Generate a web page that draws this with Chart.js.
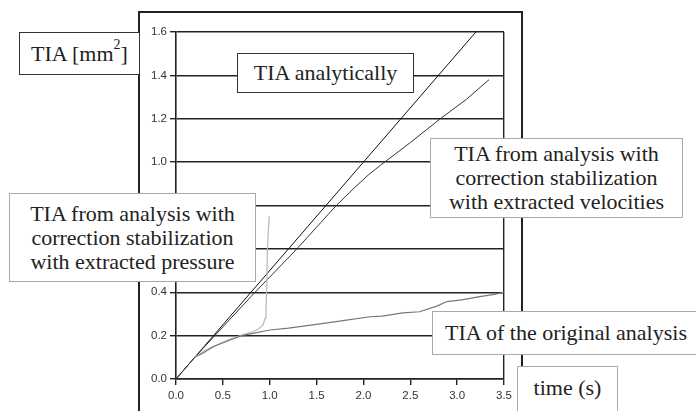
<!DOCTYPE html>
<html>
<head>
<meta charset="utf-8">
<script src="https://cdn.jsdelivr.net/npm/chart.js@4/dist/chart.umd.min.js"></script>
<style>
  html, body { margin: 0; padding: 0; background: #fff; }
  #wrap { position: relative; width: 696px; height: 411px; overflow: hidden; }
  #frame { position: absolute; left: 138px; top: 11px; width: 385px; height: 420px;
           border: 2px solid #222; box-sizing: border-box; z-index: 0; }
  canvas { position: absolute; left: 0; top: 0; z-index: 1; }
  .box { position: absolute; box-sizing: border-box; background: #fff; z-index: 2;
         font-family: "Liberation Serif", "Times New Roman", serif; font-size: 22px; line-height: 24px;
         color: #222; text-align: center; display: flex; align-items: center; justify-content: center; }
  .dark { border: 1.5px solid #333; }
  .light { border: 1.5px solid #aaa; }
  sup { font-size: 14px; line-height: 0; position: relative; top: -9px; vertical-align: baseline; }
</style>
</head>
<body>
<div id="wrap">
  <div id="frame"></div>
  <canvas id="c" width="696" height="411"></canvas>
  <div class="box dark"  style="left:19px;top:32px;width:121px;height:43px;">TIA [mm<sup>2</sup>]</div>
  <div class="box dark"  style="left:237px;top:53px;width:177px;height:40px;">TIA analytically</div>
  <div class="box light" style="left:430px;top:138px;width:253px;height:80px;">TIA from analysis with<br>correction stabilization<br>with extracted velocities</div>
  <div class="box light" style="left:9px;top:193px;width:247px;height:89px;">TIA from analysis with<br>correction stabilization<br>with extracted pressure</div>
  <div class="box light" style="left:432px;top:311px;width:268px;height:44px;">TIA of the original analysis</div>
  <div class="box light" style="left:517px;top:366px;width:101px;height:60px;align-items:flex-start;padding-top:9px;">time (s)</div>
</div>
<script>
// time axis (s) and TIA values (mm^2)
const X_TICKS = [0, 0.5, 1.0, 1.5, 2.0, 2.5, 3.0, 3.5];
const Y_TICKS = [0, 0.2, 0.4, 0.6, 0.8, 1.0, 1.2, 1.4, 1.6];

const analyticT = [0, 3.2];
const analyticV = [0, 1.6];

const velT = [0, 0.2, 0.5, 0.8, 1.0, 1.29, 1.5, 1.71, 1.9, 2.05, 2.18, 2.5, 2.82, 3.1, 3.34];
const velV = [0, 0.1, 0.24, 0.38, 0.47, 0.6, 0.7, 0.8, 0.88, 0.94, 0.985, 1.09, 1.2, 1.29, 1.38];

const origT = [0.2, 0.29, 0.4, 0.58, 0.7, 0.82, 1.0, 1.2, 1.54, 1.8, 2.07, 2.2, 2.42, 2.6, 2.79, 2.89, 3.05, 3.24, 3.4, 3.5];
const origV = [0.1, 0.12, 0.15, 0.18, 0.2, 0.21, 0.226, 0.235, 0.254, 0.27, 0.287, 0.29, 0.305, 0.31, 0.337, 0.357, 0.365, 0.38, 0.39, 0.40];

const presT = [0.2, 0.3, 0.4, 0.55, 0.65, 0.75, 0.82, 0.88, 0.93, 0.95, 0.96, 0.97, 0.975, 0.985, 0.995];
const presV = [0.1, 0.13, 0.15, 0.18, 0.195, 0.21, 0.218, 0.23, 0.25, 0.28, 0.32, 0.44, 0.595, 0.68, 0.75];

const pts = (ts, vs) => ts.map((t, i) => ({ x: t, y: vs[i] }));
const line = (label, data, color, width) => ({
  label, data, borderColor: color, borderWidth: width, pointRadius: 0, tension: 0, fill: false,
});

new Chart(document.getElementById('c'), {
  type: 'line',
  data: {
    datasets: [
      line('original', pts(origT, origV), '#777', 1.2),
      line('pressure', pts(presT, presV), '#b8b8b8', 1.2),
      line('velocities', pts(velT, velV), '#333', 1),
      line('analytic', pts(analyticT, analyticV), '#111', 1),
    ],
  },
  options: {
    responsive: false, animation: false, devicePixelRatio: 1,
    layout: { padding: { top: 32, right: 192, left: 0, bottom: 0 } },
    plugins: { legend: { display: false }, tooltip: { enabled: false } },
    scales: {
      x: {
        type: 'linear', min: 0, max: 3.5,
        afterBuildTicks: s => { s.ticks = X_TICKS.map(v => ({ value: v })); },
        afterFit: s => { s.height = 32; },
        ticks: { callback: v => v.toFixed(1), color: '#333', font: { family: 'Liberation Sans, Arial, sans-serif', size: 11.5 }, padding: 4, maxRotation: 0 },
        grid: { color: c => (c.tick && c.tick.value === 3.5 ? '#222' : 'rgba(0,0,0,0)'), tickColor: '#222', lineWidth: 1.4, tickLength: 6 },
        border: { color: '#222', width: 1.6 },
      },
      y: {
        min: 0, max: 1.6,
        afterBuildTicks: s => { s.ticks = Y_TICKS.map(v => ({ value: v })); },
        afterFit: s => { s.width = 176; },
        ticks: { callback: v => v.toFixed(1), color: '#333', font: { family: 'Liberation Sans, Arial, sans-serif', size: 11.5 }, padding: 3 },
        grid: { color: '#222', lineWidth: 1.4, tickLength: 6 },
        border: { color: '#222', width: 1.6 },
      },
    },
  },
});
</script>
</body>
</html>
